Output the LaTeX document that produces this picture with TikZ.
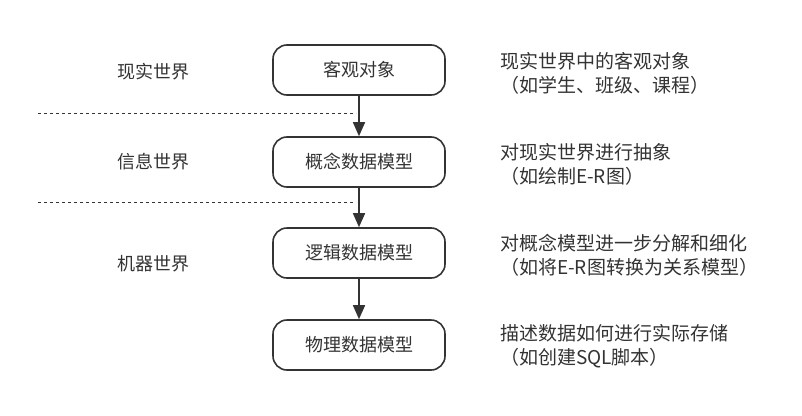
\documentclass[tikz,border=0pt]{standalone}
\usepackage{fontspec}
\newfontfamily\cjk{Noto Sans CJK SC}
\usetikzlibrary{arrows.meta}
\definecolor{ink}{HTML}{333333}
\begin{document}
\begin{tikzpicture}[x=1pt,y=-1pt,
  stage/.style={draw=ink,line width=1.6pt,rounded corners=14pt,minimum width=172pt,minimum height=50pt,font=\cjk\fontsize{18}{20}\selectfont,text=ink},
  lbl/.style={font=\cjk\fontsize{18}{20}\selectfont,text=ink},
  note/.style={font=\cjk\fontsize{19}{24}\selectfont,text=ink,align=left,anchor=west,inner sep=0pt},
  flow/.style={draw=ink,line width=1.6pt,-{Triangle[length=14pt,width=12pt]}},
  sep/.style={draw=ink,dashed,line width=0.8pt}]
\useasboundingbox (0,0) rectangle (802,415);
\node[stage] (a) at (359,70) {客观对象};
\node[stage] (b) at (359,162) {概念数据模型};
\node[stage] (c) at (359,253) {逻辑数据模型};
\node[stage] (d) at (359,345) {物理数据模型};
\draw[flow] (a) -- (b);
\draw[flow] (b) -- (c);
\draw[flow] (c) -- (d);
\coordinate (s1a) at (38,113); \coordinate (s1b) at (356,113);
\coordinate (s2a) at (38,202); \coordinate (s2b) at (353,202);
\draw[sep] (s1a) -- (s1b);
\draw[sep] (s2a) -- (s2b);
\node[lbl] (l1) at (153,72) {现实世界};
\node[lbl] (l2) at (153,162) {信息世界};
\node[lbl] (l3) at (153,264) {机器世界};
\node[note] (n1) at (500,73) {现实世界中的客观对象\\（如学生、班级、课程）};
\node[note] (n2) at (500,164) {对现实世界进行抽象\\（如绘制E-R图）};
\node[note] (n3) at (500,255) {对概念模型进一步分解和细化\\（如将E-R图转换为关系模型）};
\node[note] (n4) at (500,346) {描述数据如何进行实际存储\\（如创建SQL脚本）};
\end{tikzpicture}
\end{document}
